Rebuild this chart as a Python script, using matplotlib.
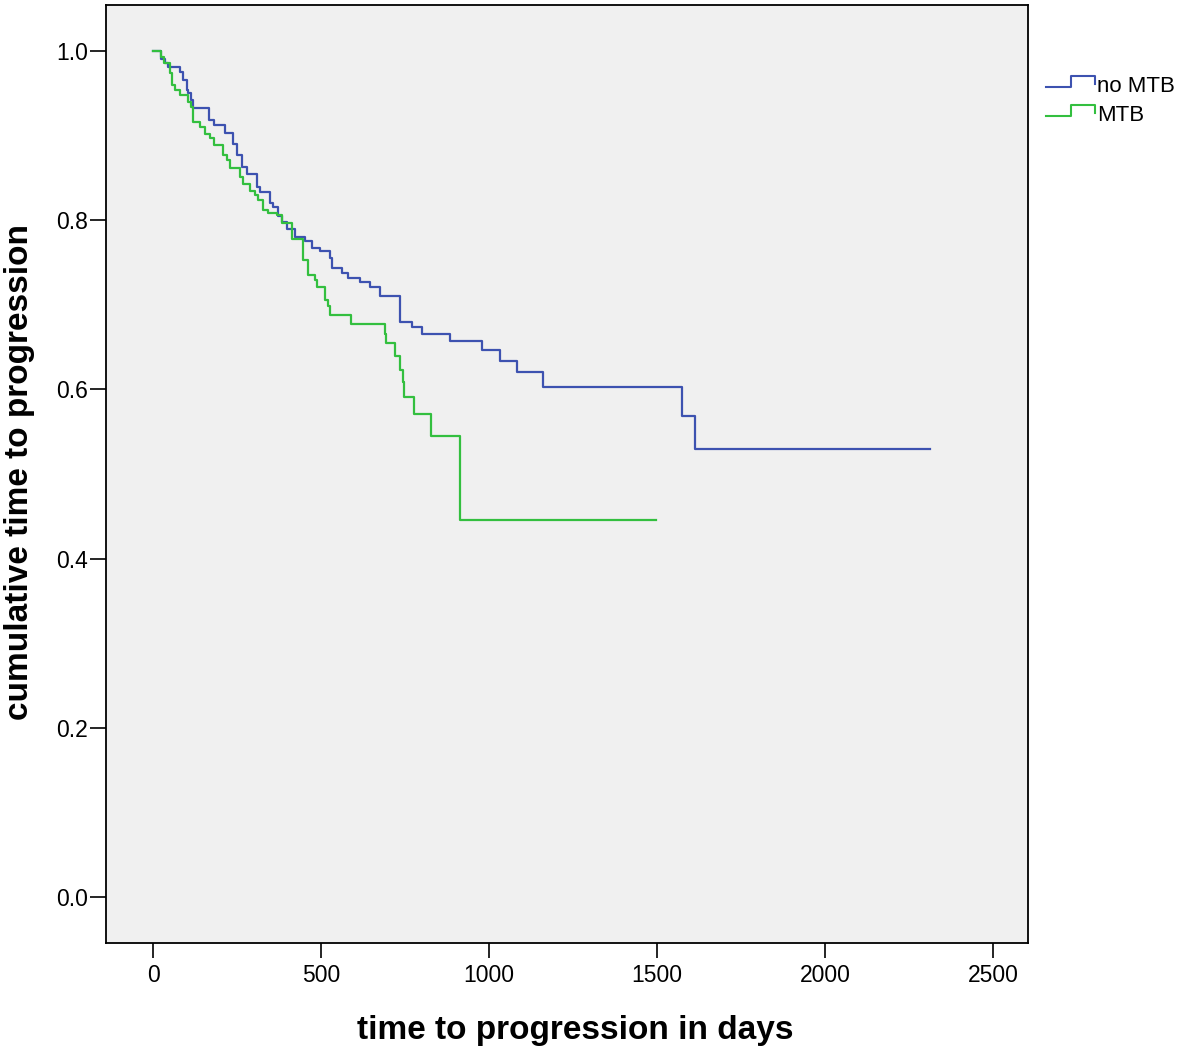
import numpy as np
import matplotlib
matplotlib.use('Agg')
import matplotlib.pyplot as plt
from matplotlib.lines import Line2D
from matplotlib.legend_handler import HandlerLine2D

plt.rcParams['font.family'] = ['Liberation Sans', 'DejaVu Sans']

# Kaplan-Meier steps (days, cumulative proportion)
no_mtb_t = [0, 23, 35, 45, 80, 90, 100, 105, 112, 120, 165, 180, 215, 238, 250, 264, 279,
            309, 318, 348, 357, 372, 385, 398, 423, 452, 472, 497, 527, 532, 562, 581,
            616, 646, 676, 735, 770, 800, 884, 978, 1033, 1082, 1160, 1573, 1613, 2312]
no_mtb_s = [1.0, 0.99, 0.985, 0.981, 0.975, 0.966, 0.954, 0.95, 0.942, 0.932, 0.918, 0.912,
            0.903, 0.89, 0.877, 0.863, 0.855, 0.839, 0.833, 0.82, 0.816, 0.805, 0.798, 0.79,
            0.78, 0.775, 0.767, 0.763, 0.755, 0.743, 0.738, 0.731, 0.727, 0.721, 0.71,
            0.68, 0.674, 0.666, 0.657, 0.646, 0.633, 0.62, 0.603, 0.568, 0.530, 0.530]

mtb_t = [0, 23, 31, 51, 56, 65, 80, 105, 112, 120, 140, 155, 170, 180, 209, 219, 229, 259,
         269, 289, 304, 313, 328, 343, 368, 383, 413, 447, 462, 482, 487, 512, 522, 527,
         588, 690, 693, 720, 735, 743, 748, 775, 826, 912, 1497]
mtb_s = [1.0, 0.993, 0.985, 0.974, 0.96, 0.954, 0.948, 0.94, 0.934, 0.916, 0.91, 0.902,
         0.897, 0.889, 0.877, 0.871, 0.861, 0.851, 0.843, 0.834, 0.83, 0.824, 0.812, 0.808,
         0.806, 0.796, 0.778, 0.753, 0.735, 0.729, 0.721, 0.706, 0.698, 0.688, 0.677,
         0.666, 0.655, 0.639, 0.623, 0.609, 0.591, 0.571, 0.545, 0.4456, 0.4456]

blue = '#3d52b0'
green = '#33bf3f'


class StepHandler(HandlerLine2D):
    # legend glyph drawn as a small step, like the SPSS output
    def create_artists(self, legend, orig_handle, xdescent, ydescent, width, height, fontsize, trans):
        y0 = height / 2 - ydescent - 2
        y1 = y0 + 7.5
        xs = [-xdescent, -xdescent + width * 0.5, -xdescent + width * 0.5,
              -xdescent + width, -xdescent + width]
        ys = [y0, y0, y1, y1, y1 - 5.5]
        ln = Line2D(xs, ys, color=orig_handle.get_color(), lw=1.5)
        ln.set_transform(trans)
        return [ln]


fig = plt.figure(figsize=(11.81, 10.52), dpi=100)
ax = fig.add_axes([0.0898, 0.1036, 0.7807, 0.8916])
ax.set_facecolor('#f0f0f0')

h1, = ax.step(no_mtb_t, no_mtb_s, where='post', color=blue, lw=1.6)
h2, = ax.step(mtb_t, mtb_s, where='post', color=green, lw=1.6)

ax.set_xlim(-140, 2604)
ax.set_ylim(-0.054, 1.054)
ax.set_xticks([0, 500, 1000, 1500, 2000, 2500])
ax.set_yticks([0.0, 0.2, 0.4, 0.6, 0.8, 1.0])
ax.set_yticklabels(['0.0', '0.2', '0.4', '0.6', '0.8', '1.0'])
ax.tick_params(axis='x', length=11, width=1.2, labelsize=16.5, pad=4)
ax.tick_params(axis='y', length=11.5, width=1.2, labelsize=16.5, pad=1.5)
for sp in ax.spines.values():
    sp.set_linewidth(1.3)

ax.set_xlabel('time to progression in days', fontsize=24, fontweight='bold', va='center')
ax.xaxis.set_label_coords(0.509, -0.0928)
ax.set_ylabel('cumulative time to progression', fontsize=24, fontweight='bold',
              va='center', ha='center')
ax.yaxis.set_label_coords(-0.0944, 0.502)

ax.legend([h1, h2], ['no MTB', 'MTB'], handler_map={h1: StepHandler(), h2: StepHandler()},
          loc='upper left', bbox_to_anchor=(1.01, 0.934), frameon=False, fontsize=16,
          handlelength=2.2, handletextpad=0.1, labelspacing=0.35, borderaxespad=0)

fig.savefig('out.png', dpi=100)
